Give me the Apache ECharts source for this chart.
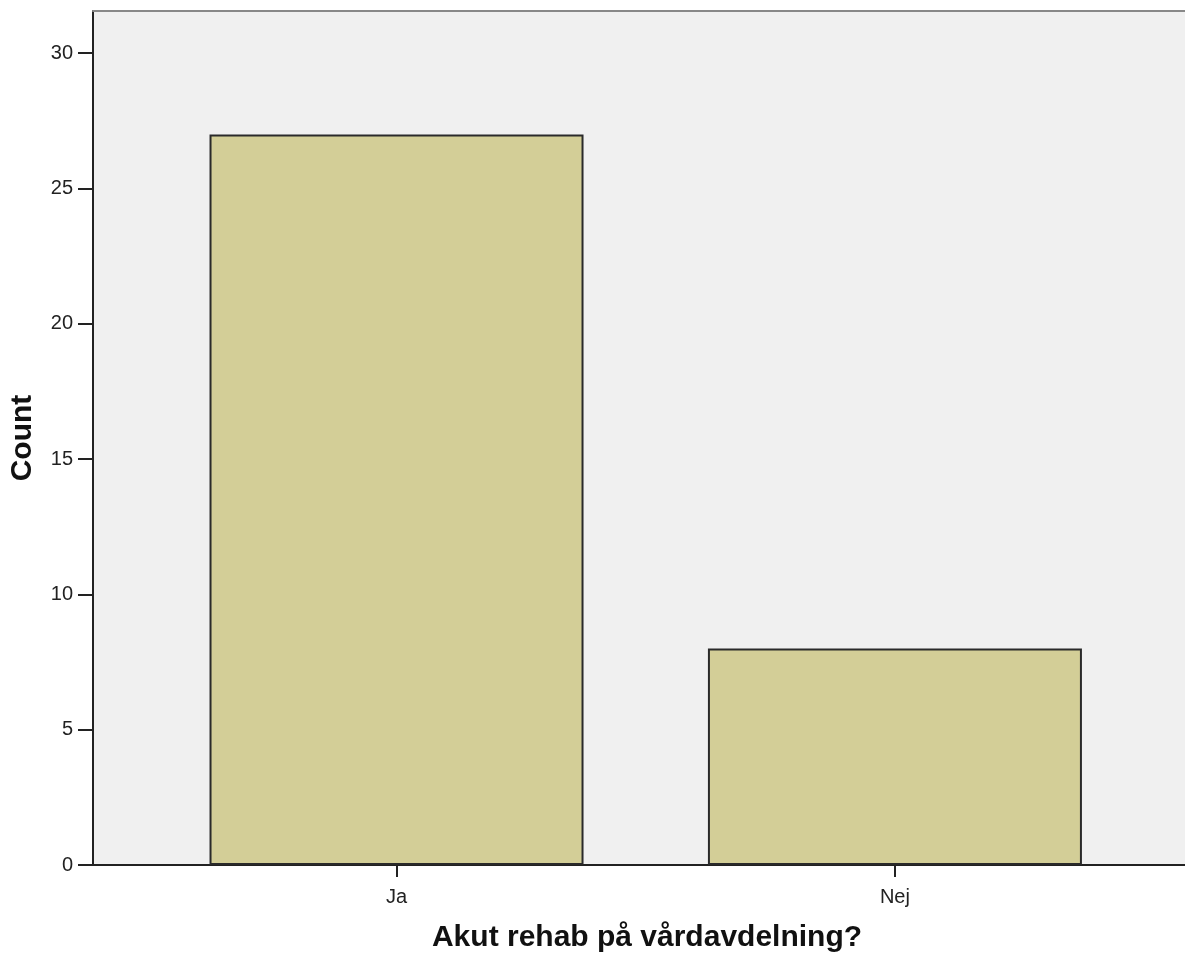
<!DOCTYPE html>
<html>
<head>
<meta charset="utf-8">
<script src="https://cdn.jsdelivr.net/npm/echarts@6/dist/echarts.min.js"></script>
<style>
html,body{margin:0;padding:0;background:#fff;}
#chart{width:1185px;height:958px;}
</style>
</head>
<body>
<div id="chart"></div>
<script>
const categories = ['Ja', 'Nej'];
const counts = [27, 8];
const yTicks = [0, 5, 10, 15, 20, 25, 30];
const xTitle = 'Akut rehab på vårdavdelning?';
const yTitle = 'Count';

const chart = echarts.init(document.getElementById('chart'), null, {renderer: 'canvas'});
const font = '"Liberation Sans", Arial, sans-serif';
const catIdx = categories.map((c, i) => i);

chart.setOption({
  animation: false,
  backgroundColor: '#ffffff',
  grid: {
    left: 92.7, top: 11, right: 0, bottom: 90.3,
    show: true, backgroundColor: '#f0f0f0', borderWidth: 0
  },
  xAxis: [{
    type: 'value',
    min: -0.609, max: 1.582,
    position: 'bottom',
    name: xTitle,
    nameLocation: 'middle',
    nameGap: 58,
    nameTextStyle: {fontFamily: font, fontSize: 30, fontWeight: 'bold', color: '#111', padding: [0, 0, 0, 16]},
    axisLine: {show: true, onZero: false, lineStyle: {color: '#222', width: 2}},
    axisTick: {show: true, length: 12, customValues: catIdx, lineStyle: {color: '#222', width: 2}},
    axisLabel: {
      show: true, customValues: catIdx, margin: 22,
      fontFamily: font, fontSize: 20, color: '#222',
      formatter: v => categories[Math.round(v)]
    },
    splitLine: {show: false}
  }, {
    type: 'value',
    min: -0.609, max: 1.582,
    position: 'top',
    axisLine: {show: true, onZero: false, lineStyle: {color: '#888', width: 2}},
    axisTick: {show: false},
    axisLabel: {show: false},
    splitLine: {show: false}
  }],
  yAxis: {
    type: 'value',
    min: 0, max: 31.56,
    name: yTitle,
    nameLocation: 'middle',
    nameGap: 55,
    nameTextStyle: {fontFamily: font, fontSize: 30, fontWeight: 'bold', color: '#111'},
    axisLine: {show: true, onZero: false, lineStyle: {color: '#222', width: 2}},
    axisTick: {show: true, length: 15, customValues: yTicks, lineStyle: {color: '#222', width: 2}},
    axisLabel: {show: true, customValues: yTicks, margin: 20, fontFamily: font, fontSize: 20, color: '#222'},
    splitLine: {show: false}
  },
  series: [{
    type: 'bar',
    xAxisIndex: 0,
    data: counts.map((v, i) => [i, v]),
    barWidth: 374,
    itemStyle: {color: '#d3ce97', borderColor: '#2a2a2a', borderWidth: 2}
  }]
});
</script>
</body>
</html>
